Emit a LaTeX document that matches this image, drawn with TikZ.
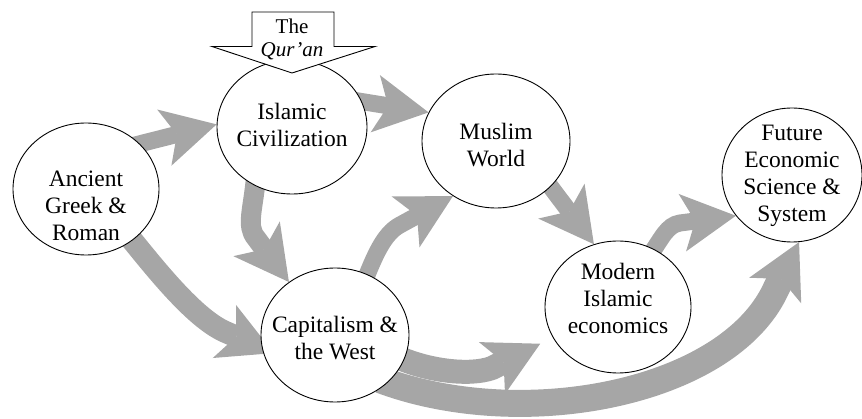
\documentclass[tikz,border=0pt]{standalone}
\usepackage{fontspec}
\setmainfont{Liberation Serif}
\usetikzlibrary{arrows.meta,shapes.geometric,backgrounds}
\definecolor{flowgray}{RGB}{166,166,166}
\begin{document}
\begin{tikzpicture}[x=1pt,y=-1pt,
  stage/.style={ellipse, draw=black, line width=0.9pt, fill=white, inner sep=0pt},
  caption/.style={align=center, font=\fontsize{23.5}{27}\selectfont, inner sep=0pt},
  flow/.style={draw=flowgray, line width=#1, shorten <=-8pt,
    -{Stealth[length=54pt,width=58pt,inset=13pt,line width=0pt]}},
  flow/.default=17pt]
\useasboundingbox (0,0) rectangle (862,419);

% stages
\node[stage, minimum width=146pt, minimum height=132pt] (anc) at (86,189) {};
\node[stage, minimum width=150pt, minimum height=134pt] (isl) at (292,127) {};
\node[stage, minimum width=148pt, minimum height=134pt] (mus) at (496,141) {};
\node[stage, minimum width=148pt, minimum height=134pt] (cap) at (335,335) {};
\node[stage, minimum width=146pt, minimum height=132pt] (mod) at (618,307) {};
\node[stage, minimum width=140pt, minimum height=134pt] (fut) at (792,175) {};

\node[caption] (anc-t) at (86,206) {Ancient\\Greek \&\\Roman};
\node[caption] (isl-t) at (292,125) {Islamic\\Civilization};
\node[caption] (mus-t) at (496,145) {Muslim\\World};
\node[caption] (cap-t) at (335,338) {Capitalism \&\\the West};
\node[caption] (mod-t) at (618,298) {Modern\\Islamic\\economics};
\node[caption] (fut-t) at (792,176) {Future\\Economic\\Science \&\\System};

% block arrows of influence, beneath the stages
\begin{scope}[on background layer]
\draw[flow] (anc.40) -- (isl.178);
\draw[flow] (isl.20) -- (mus.157);
\draw[flow=20pt] (isl.-122) .. controls (253,210) and (246,226) .. (256,238) -- (cap.131);
\draw[flow=22pt, shorten >=-13pt] (anc.-48) .. controls (154,267) and (193,317) .. (224.5,331.5) -- (cap.190);
\draw[flow] (cap.62) .. controls (374,258) and (383,234) .. (400,225) -- (mus.232);
\draw[flow] (mus.-40) -- (mod.111);
\draw[flow=24pt, shorten >=14pt] (cap.-20) .. controls (428,371) and (470,376) .. (492,368) -- (mod.205);
\draw[flow] (mod.58) .. controls (662,238) and (667,225) .. (680,223) -- (fut.216);
\draw[flow=27pt] (cap.-42) .. controls (520,432) and (720,395) .. (773,295) -- (fut.-84);
\end{scope}

% the revealed source above the Islamic civilization
\draw[line width=0.9pt, fill=white]
  (252,12) -- (334,12) -- (334,46.5) -- (375,46.5) -- (292,73) -- (212,46.5) -- (252,46.5) -- cycle;
\node[align=center, font=\fontsize{21}{23}\selectfont, inner sep=0pt] (quran) at (292,39) {The\\\textit{Qur’an}};
\end{tikzpicture}
\end{document}
